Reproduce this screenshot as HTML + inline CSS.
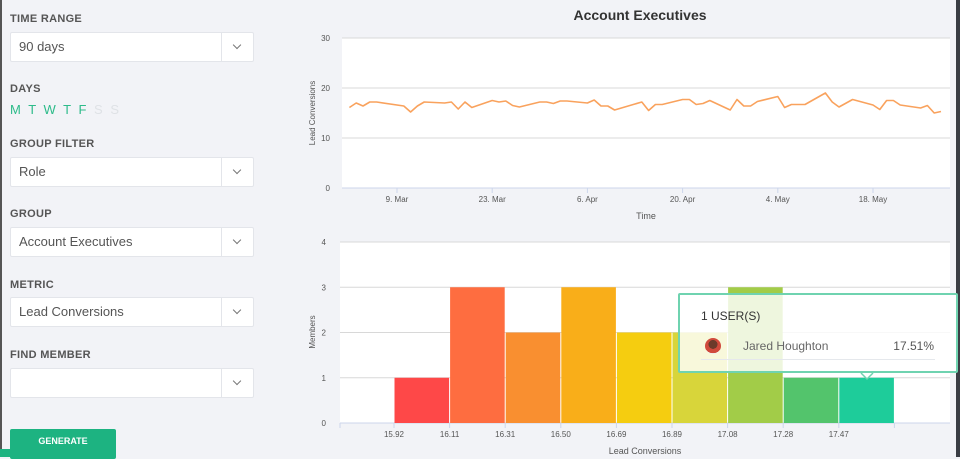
<!DOCTYPE html>
<html><head><meta charset="utf-8">
<style>
*{margin:0;padding:0;box-sizing:border-box}
body{width:960px;height:457px;overflow:hidden;background:#f2f3f7;font-family:"Liberation Sans",sans-serif;position:relative}
.lbl{position:absolute;left:10px;font-size:11px;font-weight:bold;color:#555;letter-spacing:.3px}
.sel{position:absolute;left:10px;width:244px;height:30px;background:#fff;border:1px solid #e3e5ea;border-radius:2px;font-size:13px;color:#555;line-height:28px;padding-left:8px}
.sel .arr{position:absolute;right:0;top:0;width:32px;height:28px;border-left:1px solid #e3e5ea}
.sel .arr:after{content:"";position:absolute;left:12px;top:9px;width:5px;height:5px;border-right:1px solid #777;border-bottom:1px solid #777;transform:rotate(45deg)}
</style></head><body>
<div style="position:absolute;left:0;top:0;width:2px;height:457px;background:#555"></div>
<div style="position:absolute;left:956px;top:0;width:4px;height:457px;background:#3a3d44"></div>
<div class="lbl" style="top:13px">TIME RANGE</div>
<div class="sel" style="top:32px">90 days<div class="arr"></div></div>
<div class="lbl" style="top:83px">DAYS</div>
<div style="position:absolute;left:10px;top:102px;font-size:13px;letter-spacing:2px;color:#2dbb8a">M T W T F <span style="color:#dfe2e6">S S</span></div>
<div class="lbl" style="top:138px">GROUP FILTER</div>
<div class="sel" style="top:157px">Role<div class="arr"></div></div>
<div class="lbl" style="top:208px">GROUP</div>
<div class="sel" style="top:227px">Account Executives<div class="arr"></div></div>
<div class="lbl" style="top:279px">METRIC</div>
<div class="sel" style="top:297px">Lead Conversions<div class="arr"></div></div>
<div class="lbl" style="top:349px">FIND MEMBER</div>
<div class="sel" style="top:368px"><div class="arr"></div></div>
<div style="position:absolute;left:10px;top:429px;width:106px;height:30px;background:#1db381;border-radius:2px;color:#fff;font-size:9px;font-weight:bold;text-align:center;line-height:25px">GENERATE</div>
<div style="position:absolute;left:0;top:449px;width:100px;height:8px;background:#1db381"></div>

<svg id="chart" style="position:absolute;left:0;top:0" width="960" height="457" font-family="Liberation Sans, sans-serif"></svg>

<div style="position:absolute;left:678px;top:293px;width:280px;height:80px;border:2px solid #6fd3b0;border-radius:2px;background:rgba(255,255,255,0.82)">
<div style="position:absolute;left:21px;top:14px;font-size:12px;color:#333">1 USER(S)</div>
<div style="position:absolute;left:25px;top:43px;width:16px;height:16px;border-radius:50%;background:radial-gradient(circle at 50% 40%,#6b3a2a 35%,#d04a3c 36%,#d04a3c 70%,#eee 71%)"></div>
<div style="position:absolute;left:63px;top:44px;font-size:12px;color:#666">Jared Houghton</div>
<div style="position:absolute;right:22px;top:44px;font-size:12px;color:#555">17.51%</div>
<div style="position:absolute;left:21px;top:64px;width:234px;height:1px;background:#e5e8ec"></div>
</div>

<script>
const lineDays=[-7,-6,-5,-4,-3,1,2,3,4,7,8,9,10,11,14,15,16,17,18,21,22,23,24,25,28,29,30,31,32,36,37,38,39,42,43,44,45,46,49,50,51,52,53,56,57,58,60,63,64,65,67,70,71,72,73,74,77,78,79,80];
const lineValues=[16.1,17.0,16.4,17.2,17.2,16.4,15.2,16.4,17.2,17.0,17.2,15.8,17.2,16.1,17.5,17.2,17.4,16.5,16.2,17.2,17.2,16.9,17.4,17.4,17.0,17.6,16.4,16.4,15.6,17.2,15.5,16.7,16.7,17.7,17.7,16.7,16.9,17.5,15.6,17.7,16.4,16.4,17.3,18.3,16.1,16.7,16.7,19.0,17.2,16.2,17.7,16.6,15.7,17.5,17.5,16.6,16.0,16.5,15.0,15.3];
const lineYTicks=[0,10,20,30];
const lineXTickDays=[0,14,28,42,56,70];
const lineXTickLabels=["9. Mar","23. Mar","6. Apr","20. Apr","4. May","18. May"];
const histCounts=[1,3,2,3,2,2,3,1,1];
const histBinLabels=["15.92","16.11","16.31","16.50","16.69","16.89","17.08","17.28","17.47"];
const histColors=["#fe4848","#fe6d40","#f98f30","#f9ae19","#f5cd10","#d8d53a","#a2cc48","#53c46c","#1ecc9a"];
const histYTicks=[0,1,2,3,4];

const NS="http://www.w3.org/2000/svg";
const svg=document.getElementById('chart');
function mk(tag,attrs,parent){const e=document.createElementNS(NS,tag);for(const k in attrs)e.setAttribute(k,attrs[k]);(parent||svg).appendChild(e);return e;}
function txt(s,attrs){const e=mk('text',attrs);e.textContent=s;return e;}

// title
let t=txt("Account Executives",{x:640,y:20,'text-anchor':'middle','font-size':14,'font-weight':'bold',fill:'#333'});



// line chart
const L={x0:342,x1:950,y0:188,y1:38};
const lx=d=>397+d*6.8;
const ly=v=>L.y0-(v/30)*(L.y0-L.y1);
let r=mk('rect',{x:L.x0,y:L.y1,width:L.x1-L.x0,height:L.y0-L.y1,fill:'#fff'});


lineYTicks.forEach(v=>{
  let g=mk('line',{x1:L.x0,x2:L.x1,y1:ly(v),y2:ly(v),stroke:v===0?'#ccd6eb':'#d8d8d8','stroke-width':1});
  
  
  let l=txt(String(v),{x:330,y:ly(v)+3,'text-anchor':'end','font-size':8,fill:'#555'});
  
  
});
lineXTickDays.forEach((d,i)=>{
  let k=mk('line',{x1:lx(d),x2:lx(d),y1:L.y0,y2:L.y0+5,stroke:'#ccd6eb'});
  
  
  let l=txt(lineXTickLabels[i],{x:lx(d),y:202,'text-anchor':'middle','font-size':8,fill:'#555'});
  
  
});
let yt=txt("Lead Conversions",{x:0,y:0,transform:'translate(315,113) rotate(-90)','text-anchor':'middle','font-size':8,fill:'#555'});


let xt=txt("Time",{x:646,y:219,'text-anchor':'middle','font-size':9,fill:'#555'});


let pts=lineDays.map((d,i)=>lx(d).toFixed(1)+','+ly(lineValues[i]).toFixed(1)).join(' ');
let pl=mk('polyline',{points:pts,fill:'none',stroke:'#f9a25d','stroke-width':1.6,'stroke-linejoin':'round'});



// histogram
const H={x0:340,x1:950,y0:423,y1:242,bx0:394,bw:55.6};
const hy=v=>H.y0-(v/4)*(H.y0-H.y1);
let hr=mk('rect',{x:H.x0,y:H.y1,width:H.x1-H.x0,height:H.y0-H.y1,fill:'#fff'});


histYTicks.forEach(v=>{
  let g=mk('line',{x1:H.x0,x2:H.x1,y1:hy(v),y2:hy(v),stroke:v===0?'#ccd6eb':'#d8d8d8'});
  
  
  let l=txt(String(v),{x:326,y:hy(v)+3,'text-anchor':'end','font-size':8,fill:'#555'});
  
  
});
histCounts.forEach((c,i)=>{
  const x=H.bx0+i*H.bw;
  let b=mk('rect',{x:x+0.5,y:hy(c),width:H.bw-1,height:H.y0-hy(c),fill:histColors[i]});
  
  
});
for(let i=0;i<=histCounts.length;i++){
  const x=H.bx0+i*H.bw;
  let k=mk('line',{x1:x,x2:x,y1:H.y0,y2:H.y0+5,stroke:'#ccd6eb'});
  
  
}
let k0=mk('line',{x1:H.x0,x2:H.x0,y1:H.y0,y2:H.y0+5,stroke:'#ccd6eb'});


histBinLabels.forEach((s,i)=>{
  let l=txt(s,{x:H.bx0+i*H.bw,y:437,'text-anchor':'middle','font-size':8,fill:'#555'});
  
  
});
let hyt=txt("Members",{x:0,y:0,transform:'translate(315,332) rotate(-90)','text-anchor':'middle','font-size':8,fill:'#555'});


let hxt=txt("Lead Conversions",{x:645,y:454,'text-anchor':'middle','font-size':9,fill:'#555'});


let ptr=mk('path',{d:'M861 373 L867 379 L873 373',fill:'#fff',stroke:'#6fd3b0','stroke-width':1.5});


</script>
</body></html>
